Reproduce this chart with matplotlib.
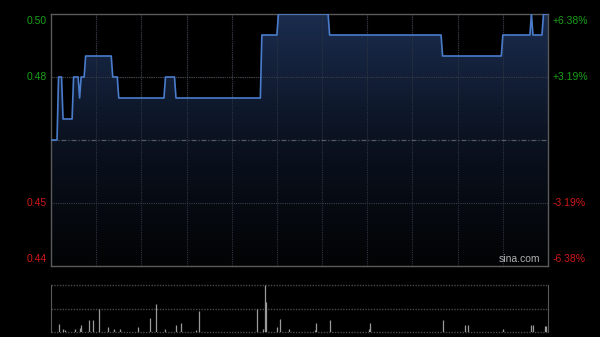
import matplotlib
matplotlib.use("Agg")
import matplotlib.pyplot as plt
import numpy as np
from matplotlib.patches import Polygon
from matplotlib.colors import LinearSegmentedColormap

# ---- data ----
# minutes since 9:30 (HK session: 330 trading minutes), price at change points
price_t = [0, 4, 5, 7, 8, 14, 15, 18, 19, 20, 22, 23, 40, 41, 44, 45, 75, 76, 82, 83,
           139, 140, 150, 151, 184, 185, 259, 260, 299, 300, 318, 319, 320, 326, 327, 330]
price_v = [0.47, 0.47, 0.485, 0.485, 0.475, 0.475, 0.485, 0.485, 0.48, 0.485, 0.485, 0.49,
           0.49, 0.485, 0.485, 0.48, 0.48, 0.485, 0.485, 0.48,
           0.48, 0.495, 0.495, 0.50, 0.50, 0.495, 0.495, 0.49, 0.49, 0.495, 0.495, 0.50,
           0.495, 0.495, 0.50, 0.50]
prev_close = 0.47

vol_t = [5, 8, 9, 16, 19, 20, 25, 28, 32, 38, 42, 46, 58, 66, 70, 76, 83, 86, 96, 98,
         137, 141, 142, 143, 150, 152, 158, 175, 176, 185, 211, 212, 260, 275, 277,
         300, 319, 320, 328, 329]
vol_v = [80, 33, 17, 33, 43, 70, 120, 120, 230, 53, 33, 33, 53, 137, 280, 33, 70, 90, 23, 213,
         230, 33, 470, 297, 53, 127, 33, 20, 90, 120, 33, 90, 120, 70, 70,
         33, 70, 70, 60, 60]

ytick_vals = [0.44, 0.455, 0.485, 0.50]
ytick_labels = ["0.44", "0.45", "0.48", "0.50"]
pct_labels = ["-6.38%", "-3.19%", "+3.19%", "+6.38%"]

# ---- figure ----
W, H = 600, 337
fig = plt.figure(figsize=(W / 100, H / 100), dpi=100, facecolor="black")
plt.rcParams["font.family"] = ["Liberation Sans", "DejaVu Sans"]

def fx(px):
    return px / W

def fy(py):
    return 1 - py / H

x0, x1 = 51, 548
ax = fig.add_axes([fx(x0), fy(266), fx(x1 - x0), fy(14) - fy(266)])
ax.set_facecolor("black")
ax.set_xlim(0, 330)
ax.set_ylim(0.44, 0.50)
for s in ax.spines.values():
    s.set_color("#5a5a5a")
    s.set_linewidth(1.0)
ax.set_xticks([])
ax.set_yticks([])

grid_c = "#3c3c3c"
for m in range(30, 330, 30):
    ax.axvline(m, color=grid_c, lw=0.8, ls=(0, (1, 1)), zorder=1)
for v in [0.455, 0.485]:
    ax.axhline(v, color="#4a4a4a", lw=0.8, ls=(0, (1, 1)), zorder=1)
ax.axhline(prev_close, color="#555a66", lw=0.9, ls=(0, (4, 1.5, 1, 1.5)), zorder=3)

# gradient fill under line
cmap = LinearSegmentedColormap.from_list("g", ["#020304", "#0b1220", "#1a2c4e"])
grad = np.linspace(0, 1, 256).reshape(-1, 1)
im = ax.imshow(grad, extent=[0, 330, 0.44, 0.50], origin="lower", aspect="auto",
               cmap=cmap, zorder=2)
verts = [(price_t[0], 0.44)] + list(zip(price_t, price_v)) + [(price_t[-1], 0.44)]
poly = Polygon(verts, closed=True, facecolor="none", edgecolor="none")
ax.add_patch(poly)
im.set_clip_path(poly)
ax.plot(price_t, price_v, color="#4a7ccc", lw=1.2, zorder=4)

# re-draw grid above fill (faint)
for m in range(30, 330, 30):
    ax.axvline(m, color="#2e3440", lw=0.8, ls=(0, (1, 1)), zorder=2.5)
for v in [0.455, 0.485]:
    ax.axhline(v, color="#3a3f48", lw=0.8, ls=(0, (1, 1)), zorder=2.5)

ax.text(0.985, 0.008, "sina.com", transform=ax.transAxes, ha="right", va="bottom",
        color="#b0b0b0", fontsize=7.5, zorder=5)

# y labels
green, red = "#18a018", "#d01818"
for v, lab, pl in zip(ytick_vals, ytick_labels, pct_labels):
    col = green if v > prev_close else red
    if v == 0.50:
        va = "top"; yy = v - 0.0004
    elif v == 0.44:
        va = "bottom"; yy = v + 0.0004
    else:
        va = "center"; yy = v
    ax.text(-0.008, yy, lab, transform=ax.get_yaxis_transform(), ha="right", va=va,
            color=col, fontsize=7.5)
    ax.text(1.01, yy, pl, transform=ax.get_yaxis_transform(), ha="left", va=va,
            color=col, fontsize=7.5)

# volume panel
vax = fig.add_axes([fx(x0), fy(332), fx(x1 - x0), fy(285) - fy(332)])
vax.set_facecolor("black")
vax.set_xlim(0, 330)
vmax = max(vol_v)
vax.set_ylim(0, vmax)
vax.set_xticks([])
vax.set_yticks([])
for k in ["top", "bottom"]:
    vax.spines[k].set_visible(False)
for k in ["left", "right"]:
    vax.spines[k].set_color("#5a5a5a")
for v in [0, vmax / 2, vmax]:
    vax.axhline(v, color="#4a4a4a", lw=1.0, ls=(0, (1, 1)), clip_on=False)
vax.vlines(vol_t, 0, vol_v, color="#9a9a9a", lw=0.9)

fig.savefig("out.png", dpi=100, facecolor="black")
